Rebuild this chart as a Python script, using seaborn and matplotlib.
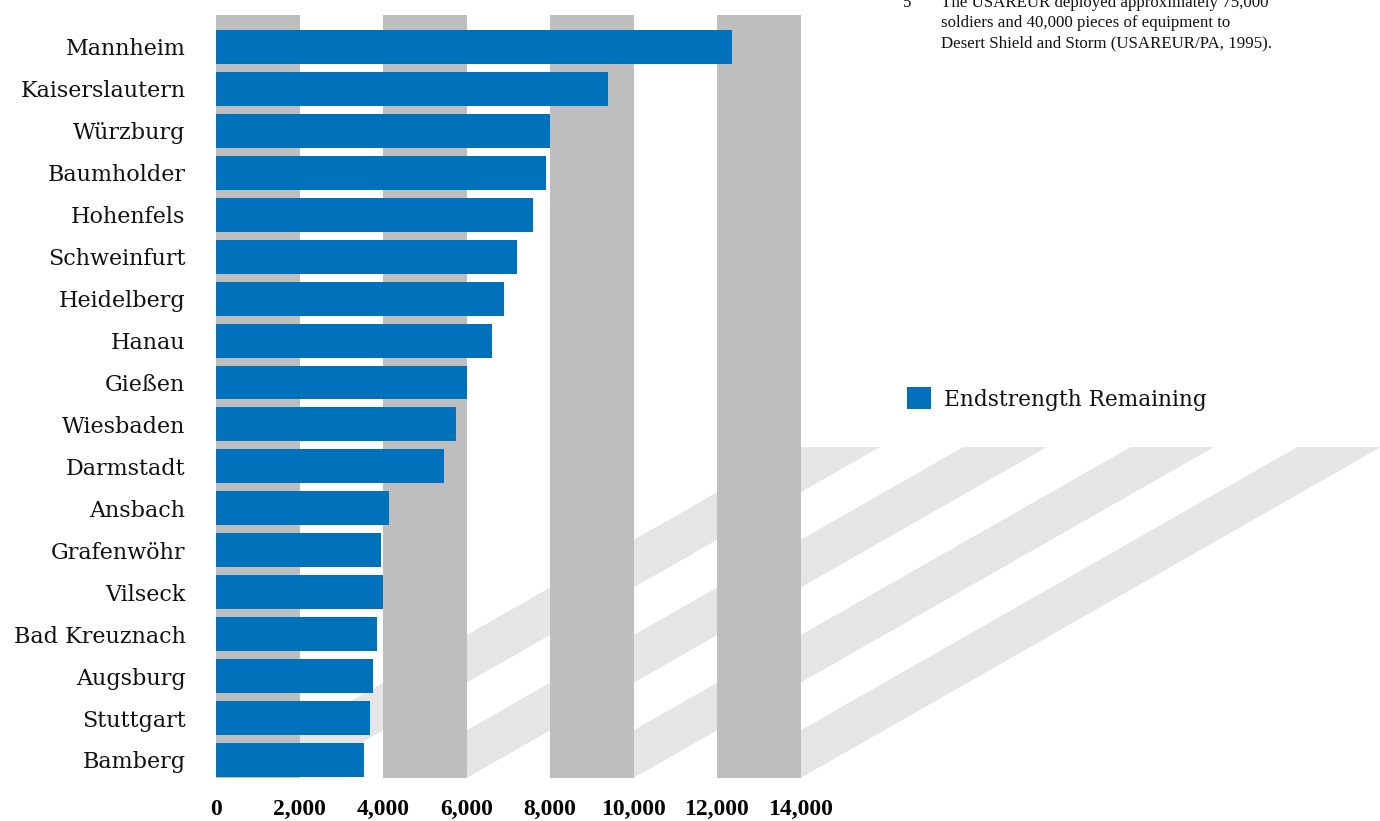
import matplotlib
matplotlib.use('Agg')
import matplotlib.pyplot as plt
import seaborn as sns
import pandas as pd
from matplotlib.patches import Polygon

# values
garrisons = ['Mannheim', 'Kaiserslautern', 'Würzburg', 'Baumholder', 'Hohenfels',
             'Schweinfurt', 'Heidelberg', 'Hanau', 'Gießen', 'Wiesbaden', 'Darmstadt',
             'Ansbach', 'Grafenwöhr', 'Vilseck', 'Bad Kreuznach', 'Augsburg',
             'Stuttgart', 'Bamberg']
endstrength = [12350, 9400, 8000, 7900, 7600, 7200, 6900, 6600, 6000, 5750, 5450,
               4150, 3950, 4000, 3850, 3750, 3700, 3550]
tick_values = [0, 2000, 4000, 6000, 8000, 10000, 12000, 14000]
tick_labels = ['0', '2,000', '4,000', '6,000', '8,000', '10,000', '12,000', '14,000']
note = ('The USAREUR deployed approximately 75,000\n'
        'soldiers and 40,000 pieces of equipment to\n'
        'Desert Shield and Storm (USAREUR/PA, 1995).')

df = pd.DataFrame({'garrison': garrisons, 'endstrength': endstrength})

sns.set_theme(style='white')
plt.rcParams['font.family'] = ['DejaVu Serif']

W, H = 1380, 821
fig = plt.figure(figsize=(W / 100, H / 100), dpi=100)
ax = fig.add_axes([216 / W, 1 - 778 / H, (W - 216) / W, (778 - 15) / H])

y_bottom, y_top = 17.43, -0.763
shadow_top = 9.54
shadow_dx = 13900

# grey bands and their diagonal shadows
for lo, hi in zip(tick_values[0::2], tick_values[1::2]):
    ax.add_patch(Polygon([(lo, y_bottom), (hi, y_bottom),
                          (hi + shadow_dx, shadow_top), (lo + shadow_dx, shadow_top)],
                         closed=True, facecolor='#e5e5e5', edgecolor='none', zorder=0))
    ax.axvspan(lo, hi, color='#bebebe', zorder=1, lw=0)

sns.barplot(data=df, x='endstrength', y='garrison', color='#0072bb', width=0.81,
            saturation=1, ax=ax, zorder=3, linewidth=0, label='Endstrength Remaining')

ax.set_xlim(0, (W - 216) / 0.04175)
ax.set_ylim(y_bottom, y_top)
ax.set_xticks(tick_values)
ax.set_xticklabels(tick_labels, fontfamily='Liberation Serif', fontweight='bold',
                   fontsize=17, color='black')
ax.tick_params(axis='x', length=0, pad=15)
ax.tick_params(axis='y', length=0, pad=22, labelsize=16, labelcolor='#111111')
ax.set_xlabel('')
ax.set_ylabel('')
for s in ax.spines.values():
    s.set_visible(False)
ax.set_facecolor('none')

leg = ax.legend(loc='center left', bbox_to_anchor=(887 / W, 1 - 399 / H),
                bbox_transform=fig.transFigure, frameon=False, fontsize=15.6,
                handlelength=1.15, handleheight=1.15, handletextpad=0.6)
for t in leg.get_texts():
    t.set_color('#111111')

fig.text(903 / W, 1 + 5 / H, '5', fontsize=12.2, fontfamily='Liberation Serif',
         va='top', color='#111111')
fig.text(941 / W, 1 + 5 / H, note, fontsize=12.2, fontfamily='Liberation Serif',
         va='top', linespacing=1.33, color='#111111')

fig.savefig('out.png', dpi=100)
